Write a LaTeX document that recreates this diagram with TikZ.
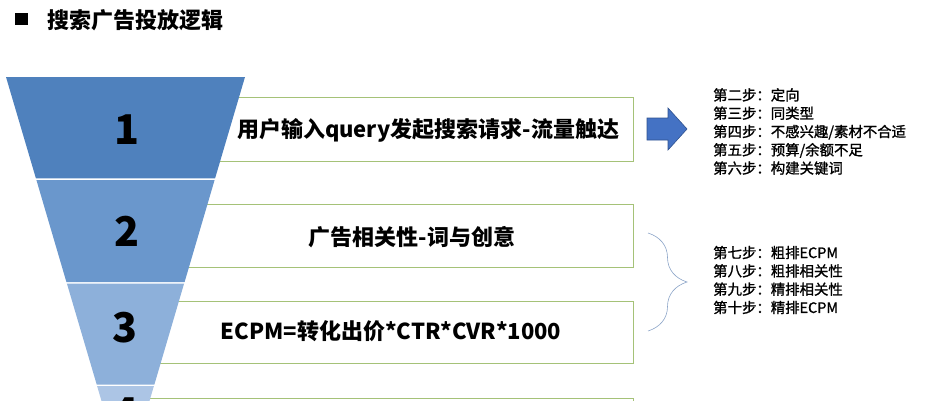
\documentclass[tikz,border=0pt]{standalone}
\usepackage{fontspec}
\setmainfont{Noto Sans CJK SC}
\newfontfamily\stepfont[FakeBold=1.2]{Noto Sans CJK SC}
\usetikzlibrary{calc,decorations.pathreplacing}
\usepackage{tkz-euclide}
\definecolor{FunClrA}{RGB}{79,129,189}
\definecolor{FunClrB}{RGB}{106,151,204}
\definecolor{FunClrC}{RGB}{141,176,218}
\definecolor{FunClrD}{RGB}{172,197,229}
\definecolor{BoxClr}{RGB}{165,194,120}
\definecolor{ArrClr}{RGB}{68,114,196}
\definecolor{ArrEdge}{RGB}{47,82,143}
\definecolor{BraceClr}{RGB}{140,165,200}

\begin{document}
\begin{tikzpicture}[x=1pt,y=-1pt,
  numtxt/.style={font=\fontsize{41}{41}\selectfont\bfseries,inner sep=0pt},
  boxtxt/.style={font=\fontsize{22}{26}\selectfont\bfseries,inner sep=0pt},
  steptxt/.style={font=\stepfont\fontsize{14.4}{18.3}\selectfont,align=left,anchor=west,inner sep=0pt},
  gbox/.style={draw=BoxClr,line width=0.8pt}]
\useasboundingbox (0,0) rectangle (936,400);
\clip (0,0) rectangle (936,400);

% title
\fill (15,13) rectangle (28,25);
\node[anchor=west,inner sep=0pt,font=\fontsize{22}{22}\selectfont\bfseries] (title) at (47,20) {搜索广告投放逻辑};

% boxes, left ends hidden by the funnel
\draw[gbox] (140,97) rectangle (633,161);
\draw[gbox] (140,204) rectangle (633,267);
\draw[gbox] (140,301) rectangle (633,363);
\draw[gbox] (140,398) rectangle (633,460);

% funnel
\tkzDefPoints{6/77/A1,245/77/B1,215.1/178.3/C1,35.9/178.3/D1,
  36.4/180/A2,214.6/180/B2,184.6/282/C2,66.4/282/D2,
  66.9/283.5/A3,184.1/283.5/B3,154.4/384.5/C3,96.7/384.5/D3,
  97.1/386/A4,153.9/386/B4,143.9/420/C4,107.1/420/D4}
\tkzFillPolygon[fill=FunClrA](A1,B1,C1,D1)
\tkzFillPolygon[fill=FunClrB](A2,B2,C2,D2)
\tkzFillPolygon[fill=FunClrC](A3,B3,C3,D3)
\tkzFillPolygon[fill=FunClrD](A4,B4,C4,D4)

\node[numtxt] (n1) at (127,130) {1};
\node[numtxt] (n2) at (127,231) {2};
\node[numtxt] (n3) at (125,328) {3};
\node[numtxt] (n4) at (126,413) {4};

\node[boxtxt] (t1) at (428,130) {用户输入query发起搜索请求-流量触达};
\node[boxtxt] (t2) at (412,237) {广告相关性-词与创意};
\node[boxtxt] (t3) at (391,331) {ECPM=转化出价*CTR*CVR*1000};

% arrow and brace
\filldraw[fill=ArrClr,draw=ArrEdge,line width=0.6pt] (647,118) -- (668,118) -- (668,108)
  -- (687,129) -- (668,150) -- (668,140) -- (647,140) -- cycle;
\coordinate (bt) at (648,233);
\coordinate (bb) at (648,331);
\draw[BraceClr,line width=0.6pt,decorate,decoration={brace,amplitude=39pt}] (bt) -- (bb);

% steps
\node[steptxt] (s1) at (713,131.5) {第二步：定向\\第三步：同类型\\第四步：不感兴趣/素材不合适\\第五步：预算/余额不足\\第六步：构建关键词};
\node[steptxt] (s2) at (713,280) {第七步：粗排ECPM\\第八步：粗排相关性\\第九步：精排相关性\\第十步：精排ECPM};

\end{tikzpicture}
\end{document}
